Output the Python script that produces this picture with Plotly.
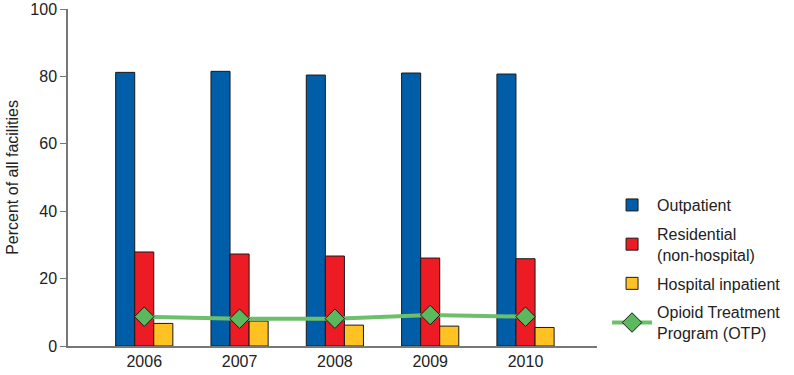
import plotly.graph_objects as go

years = ["2006", "2007", "2008", "2009", "2010"]
outpatient = [81.2, 81.5, 80.4, 81.0, 80.7]
residential = [27.9, 27.3, 26.7, 26.1, 25.9]
hospital = [6.7, 7.4, 6.2, 5.9, 5.5]
otp = [8.7, 8.1, 8.1, 9.2, 8.7]
y_ticks = [0, 20, 40, 60, 80, 100]

font = "Liberation Sans, Arial, Helvetica, sans-serif"
outline = dict(color="#1a1a1a", width=1)

fig = go.Figure()
fig.add_bar(x=years, y=outpatient, name="Outpatient", legendgroup="a",
            marker=dict(color="#005EA8", line=outline))
fig.add_bar(x=years, y=residential, name="Residential<br>(non-hospital)",
            legendgroup="b", marker=dict(color="#ED1C24", line=outline))
fig.add_bar(x=years, y=hospital, name="Hospital inpatient", legendgroup="c",
            marker=dict(color="#FFC222", line=outline))
fig.add_scatter(x=years, y=otp, name="Opioid Treatment<br>Program (OTP)",
                legendgroup="d", mode="lines+markers",
                line=dict(color="#6DBF6B", width=4),
                marker=dict(symbol="diamond", size=15, color="#5CB85C",
                            line=dict(color="#1a1a1a", width=1)))

fig.update_layout(
    width=794, height=375,
    margin=dict(l=68, r=197, t=9, b=29, autoexpand=False),
    paper_bgcolor="white", plot_bgcolor="white",
    barmode="group", bargap=0.4, bargroupgap=0,
    font=dict(family=font, size=16, color="#222"),
    showlegend=True,
    legend=dict(x=1.019, xanchor="left", y=-0.012, yanchor="bottom",
                font=dict(size=16), itemwidth=40, tracegroupgap=5,
                traceorder="grouped"),
    xaxis=dict(type="category", range=[-0.8, 4.75], showline=True,
               linecolor="#777", linewidth=1.5, ticks="", showgrid=False,
               automargin=False, tickfont=dict(size=16),
               ticklabeloverflow="allow"),
    yaxis=dict(range=[0, 100], tickvals=y_ticks, showline=True,
               linecolor="#777", linewidth=1.5, ticks="outside",
               ticklen=6, tickcolor="#777", showgrid=False, zeroline=False,
               automargin=False, ticklabeloverflow="allow",
               title=dict(text="Percent of all facilities", font=dict(size=16),
                          standoff=8),
               tickfont=dict(size=16)),
)

fig.write_html("out.html",
               config={"displayModeBar": False},
               post_script="document.body.style.margin='0';"
                           "document.body.style.overflow='hidden';")
